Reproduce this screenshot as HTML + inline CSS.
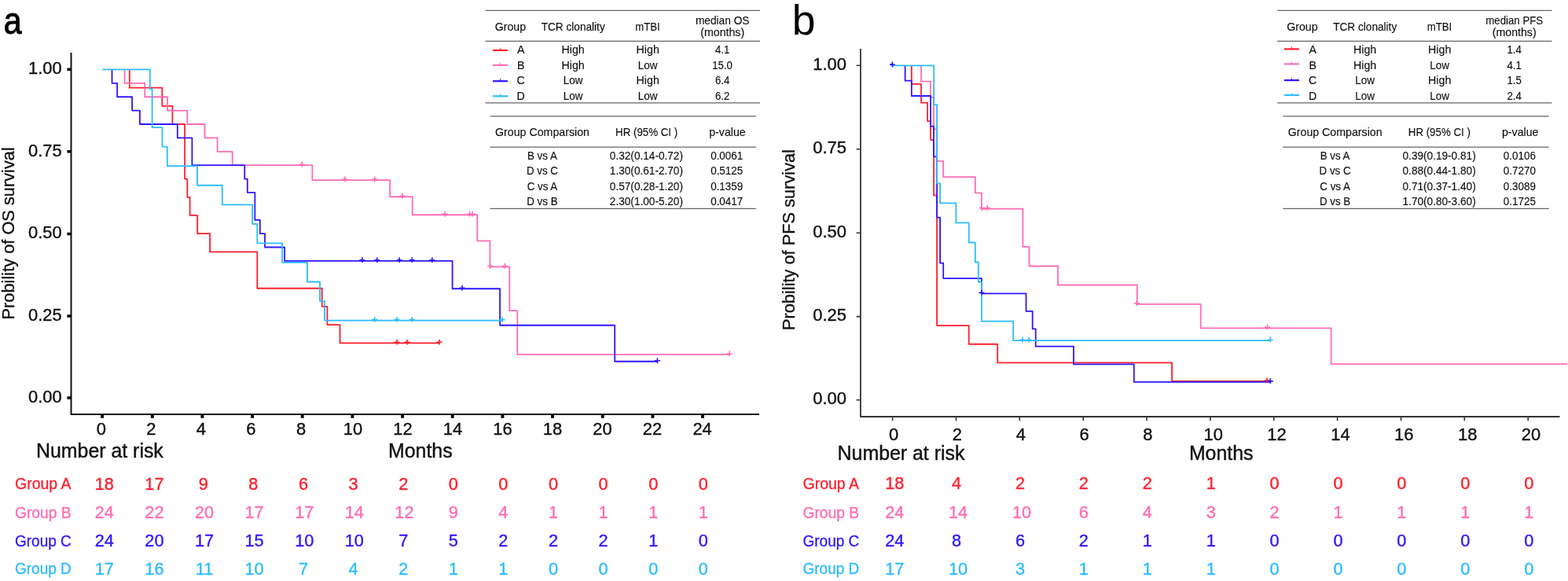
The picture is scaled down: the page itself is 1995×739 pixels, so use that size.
<!DOCTYPE html>
<html lang="en">
<head>
<meta charset="utf-8">
<title>Kaplan-Meier survival curves: OS and PFS by TCR clonality and mTBI group</title>
<style>
html,body{margin:0;padding:0;background:#fff;}
body{width:1995px;height:739px;overflow:hidden;}
svg{display:block;font-family:"Liberation Sans", Arial, Helvetica, sans-serif;}
text{white-space:pre;}
</style>
</head>
<body>
<svg width="1995" height="739" viewBox="0 0 1995 739">
<rect width="1995" height="739" fill="#fff"/>
<g id="panel-a">
<path d="M164.8 88.45H164.8V111.64H206.3V134.83H219.4V158.02H235.1V227.59H238.3V250.78H241.6V273.97H251.2V297.16H267.1V320.35H327.3V366.73H409.7V389.92H416.4V413.11H432.5V436.3H559.0" fill="none" stroke="#ff1e2c" stroke-width="1.8" stroke-linejoin="round"/>
<path d="M158.6 88.45H158.6V105.84H184.2V123.23H213.0V140.62H238.3V158.01H260.5V175.4H276.6V192.79H295.7V210.18H397.4V229.05H496.1V250.25H524.7V273.25H607.3V306.45H623.4V339.45H648.3V395.15H658.3V450.95H928.2" fill="none" stroke="#ff6cb5" stroke-width="1.8" stroke-linejoin="round"/>
<path d="M142.5 88.45H142.5V105.84H149.1V123.23H168.1V140.62H177.9V158.01H225.8V175.4H244.4V210.18H311.25V227.57H314.8V244.96H324.3V279.74H330.8V297.13H337.0V314.52H362.1V331.91H575.6V367.25H636.1V413.75H782.2V459.75H836.4" fill="none" stroke="#3016ff" stroke-width="1.8" stroke-linejoin="round"/>
<path d="M130.2 88.45H190.8V113.0H193.6V162.1H206.5V186.65H212.8V211.2H251.0V235.75H282.8V260.3H321.1V284.85H327.3V309.4H359.1V333.95H391.0V358.5H407.0V383.05H413.0V407.6H639.0" fill="none" stroke="#2cbcff" stroke-width="1.8" stroke-linejoin="round"/>
<path d="M501.6 435.3H508.6M505.1 431.7V438.5M514.5 435.3H521.5M518.0 431.7V438.5M555.5 435.3H562.5M559.0 431.7V438.5" fill="none" stroke="#ff1e2c" stroke-width="1.6"/>
<path d="M380.7 209.18H387.7M384.2 205.58V212.38M435.2 228.05H442.2M438.7 224.45V231.25M473.3 228.05H480.3M476.8 224.45V231.25M508.3 249.25H515.3M511.8 245.65V252.45M562.5 272.25H569.5M566.0 268.65V275.45M594.1 272.25H601.1M597.6 268.65V275.45M597.5 272.25H604.5M601.0 268.65V275.45M620.0 338.45H627.0M623.5 334.85V341.65M638.9 338.45H645.9M642.4 334.85V341.65M924.7 449.95H931.7M928.2 446.35V453.15" fill="none" stroke="#ff6cb5" stroke-width="1.6"/>
<path d="M457.4 330.91H464.4M460.9 327.31V334.11M476.3 330.91H483.3M479.8 327.31V334.11M504.7 330.91H511.7M508.2 327.31V334.11M520.7 330.91H527.7M524.2 327.31V334.11M546.3 330.91H553.3M549.8 327.31V334.11M584.5 366.25H591.5M588.0 362.65V369.45M832.9 458.75H839.9M836.4 455.15V461.95" fill="none" stroke="#3016ff" stroke-width="1.6"/>
<path d="M473.2 406.6H480.2M476.7 403.0V409.8M501.6 406.6H508.6M505.1 403.0V409.8M520.9 406.6H527.9M524.4 403.0V409.8M635.5 406.6H642.5M639.0 403.0V409.8" fill="none" stroke="#2cbcff" stroke-width="1.6"/>
<path d="M90.5 67V527.0H966" fill="none" stroke="#111" stroke-width="2.0" stroke-linejoin="round"/>
<path d="M85.4 88.3H90.5M85.4 192.8H90.5M85.4 297.6H90.5M85.4 402.0H90.5M85.4 506.0H90.5" fill="none" stroke="#000" stroke-width="3.5"/>
<path d="M130.1 527V531.8M193.8 527V531.8M257.4 527V531.8M321.1 527V531.8M384.7 527V531.8M448.4 527V531.8M512.1 527V531.8M575.7 527V531.8M639.4 527V531.8M703.0 527V531.8M766.7 527V531.8M830.4 527V531.8M894.0 527V531.8" fill="none" stroke="#000" stroke-width="3.9"/>
<text transform="translate(78.7 93.5) scale(0.97 1)" font-size="22.6" fill="#111" text-anchor="end" stroke="#111" stroke-width="0.4">1.00</text>
<text transform="translate(78.7 198.7) scale(0.97 1)" font-size="22.6" fill="#111" text-anchor="end" stroke="#111" stroke-width="0.4">0.75</text>
<text transform="translate(78.7 303.2) scale(0.97 1)" font-size="22.6" fill="#111" text-anchor="end" stroke="#111" stroke-width="0.4">0.50</text>
<text transform="translate(78.7 407.9) scale(0.97 1)" font-size="22.6" fill="#111" text-anchor="end" stroke="#111" stroke-width="0.4">0.25</text>
<text transform="translate(78.7 512.2) scale(0.97 1)" font-size="22.6" fill="#111" text-anchor="end" stroke="#111" stroke-width="0.4">0.00</text>
<text transform="translate(128.8 553.4) scale(0.97 1)" font-size="22.6" fill="#111" text-anchor="middle" stroke="#111" stroke-width="0.4">0</text>
<text transform="translate(192.35 553.4) scale(0.97 1)" font-size="22.6" fill="#111" text-anchor="middle" stroke="#111" stroke-width="0.4">2</text>
<text transform="translate(255.9 553.4) scale(0.97 1)" font-size="22.6" fill="#111" text-anchor="middle" stroke="#111" stroke-width="0.4">4</text>
<text transform="translate(319.45 553.4) scale(0.97 1)" font-size="22.6" fill="#111" text-anchor="middle" stroke="#111" stroke-width="0.4">6</text>
<text transform="translate(383.0 553.4) scale(0.97 1)" font-size="22.6" fill="#111" text-anchor="middle" stroke="#111" stroke-width="0.4">8</text>
<text transform="translate(449.0 553.4) scale(0.97 1)" font-size="22.6" fill="#111" text-anchor="middle" stroke="#111" stroke-width="0.4">10</text>
<text transform="translate(512.51 553.4) scale(0.97 1)" font-size="22.6" fill="#111" text-anchor="middle" stroke="#111" stroke-width="0.4">12</text>
<text transform="translate(576.02 553.4) scale(0.97 1)" font-size="22.6" fill="#111" text-anchor="middle" stroke="#111" stroke-width="0.4">14</text>
<text transform="translate(639.53 553.4) scale(0.97 1)" font-size="22.6" fill="#111" text-anchor="middle" stroke="#111" stroke-width="0.4">16</text>
<text transform="translate(703.04 553.4) scale(0.97 1)" font-size="22.6" fill="#111" text-anchor="middle" stroke="#111" stroke-width="0.4">18</text>
<text transform="translate(766.55 553.4) scale(0.97 1)" font-size="22.6" fill="#111" text-anchor="middle" stroke="#111" stroke-width="0.4">20</text>
<text transform="translate(830.06 553.4) scale(0.97 1)" font-size="22.6" fill="#111" text-anchor="middle" stroke="#111" stroke-width="0.4">22</text>
<text transform="translate(893.57 553.4) scale(0.97 1)" font-size="22.6" fill="#111" text-anchor="middle" stroke="#111" stroke-width="0.4">24</text>
<text x="126.9" y="581.8" font-size="24.9" fill="#111" text-anchor="middle" stroke="#111" stroke-width="0.4">Number at risk</text>
<text x="534.8" y="581.5" font-size="24.9" fill="#111" text-anchor="middle" stroke="#111" stroke-width="0.4">Months</text>
<text transform="translate(18.1 296.8) rotate(-90)" x="0" y="0" font-size="21.8" fill="#111" stroke="#111" stroke-width="0.35" text-anchor="middle">Probility of OS survival</text>
<text transform="translate(16.2 43.3) scale(0.87 1)" font-size="47.2" fill="#000" text-anchor="middle" stroke="#000" stroke-width="1.0">a</text>
<text transform="translate(19.0 622.0) scale(1.01 1)" font-size="19.3" fill="#ff1e2c" text-anchor="start" stroke="#ff1e2c" stroke-width="0.3">Group A</text>
<text transform="translate(132.8 623.2) scale(0.96 1)" font-size="22.6" fill="#ff1e2c" text-anchor="middle" stroke="#ff1e2c" stroke-width="0.4">18</text>
<text transform="translate(196.4 623.2) scale(0.96 1)" font-size="22.6" fill="#ff1e2c" text-anchor="middle" stroke="#ff1e2c" stroke-width="0.4">17</text>
<text transform="translate(258.8 623.2) scale(0.96 1)" font-size="22.6" fill="#ff1e2c" text-anchor="middle" stroke="#ff1e2c" stroke-width="0.4">9</text>
<text transform="translate(322.4 623.2) scale(0.96 1)" font-size="22.6" fill="#ff1e2c" text-anchor="middle" stroke="#ff1e2c" stroke-width="0.4">8</text>
<text transform="translate(386.0 623.2) scale(0.96 1)" font-size="22.6" fill="#ff1e2c" text-anchor="middle" stroke="#ff1e2c" stroke-width="0.4">6</text>
<text transform="translate(449.6 623.2) scale(0.96 1)" font-size="22.6" fill="#ff1e2c" text-anchor="middle" stroke="#ff1e2c" stroke-width="0.4">3</text>
<text transform="translate(513.2 623.2) scale(0.96 1)" font-size="22.6" fill="#ff1e2c" text-anchor="middle" stroke="#ff1e2c" stroke-width="0.4">2</text>
<text transform="translate(576.8 623.2) scale(0.96 1)" font-size="22.6" fill="#ff1e2c" text-anchor="middle" stroke="#ff1e2c" stroke-width="0.4">0</text>
<text transform="translate(640.4 623.2) scale(0.96 1)" font-size="22.6" fill="#ff1e2c" text-anchor="middle" stroke="#ff1e2c" stroke-width="0.4">0</text>
<text transform="translate(704.0 623.2) scale(0.96 1)" font-size="22.6" fill="#ff1e2c" text-anchor="middle" stroke="#ff1e2c" stroke-width="0.4">0</text>
<text transform="translate(767.6 623.2) scale(0.96 1)" font-size="22.6" fill="#ff1e2c" text-anchor="middle" stroke="#ff1e2c" stroke-width="0.4">0</text>
<text transform="translate(831.2 623.2) scale(0.96 1)" font-size="22.6" fill="#ff1e2c" text-anchor="middle" stroke="#ff1e2c" stroke-width="0.4">0</text>
<text transform="translate(894.8 623.2) scale(0.96 1)" font-size="22.6" fill="#ff1e2c" text-anchor="middle" stroke="#ff1e2c" stroke-width="0.4">0</text>
<text transform="translate(19.0 658.5) scale(0.995 1)" font-size="19.3" fill="#ff6cb5" text-anchor="start" stroke="#ff6cb5" stroke-width="0.3">Group B</text>
<text transform="translate(132.8 659.0) scale(0.96 1)" font-size="22.6" fill="#ff6cb5" text-anchor="middle" stroke="#ff6cb5" stroke-width="0.4">24</text>
<text transform="translate(196.4 659.0) scale(0.96 1)" font-size="22.6" fill="#ff6cb5" text-anchor="middle" stroke="#ff6cb5" stroke-width="0.4">22</text>
<text transform="translate(260.0 659.0) scale(0.96 1)" font-size="22.6" fill="#ff6cb5" text-anchor="middle" stroke="#ff6cb5" stroke-width="0.4">20</text>
<text transform="translate(323.6 659.0) scale(0.96 1)" font-size="22.6" fill="#ff6cb5" text-anchor="middle" stroke="#ff6cb5" stroke-width="0.4">17</text>
<text transform="translate(387.2 659.0) scale(0.96 1)" font-size="22.6" fill="#ff6cb5" text-anchor="middle" stroke="#ff6cb5" stroke-width="0.4">17</text>
<text transform="translate(450.8 659.0) scale(0.96 1)" font-size="22.6" fill="#ff6cb5" text-anchor="middle" stroke="#ff6cb5" stroke-width="0.4">14</text>
<text transform="translate(514.4 659.0) scale(0.96 1)" font-size="22.6" fill="#ff6cb5" text-anchor="middle" stroke="#ff6cb5" stroke-width="0.4">12</text>
<text transform="translate(576.8 659.0) scale(0.96 1)" font-size="22.6" fill="#ff6cb5" text-anchor="middle" stroke="#ff6cb5" stroke-width="0.4">9</text>
<text transform="translate(640.4 659.0) scale(0.96 1)" font-size="22.6" fill="#ff6cb5" text-anchor="middle" stroke="#ff6cb5" stroke-width="0.4">4</text>
<text transform="translate(704.0 659.0) scale(0.96 1)" font-size="22.6" fill="#ff6cb5" text-anchor="middle" stroke="#ff6cb5" stroke-width="0.4">1</text>
<text transform="translate(767.6 659.0) scale(0.96 1)" font-size="22.6" fill="#ff6cb5" text-anchor="middle" stroke="#ff6cb5" stroke-width="0.4">1</text>
<text transform="translate(831.2 659.0) scale(0.96 1)" font-size="22.6" fill="#ff6cb5" text-anchor="middle" stroke="#ff6cb5" stroke-width="0.4">1</text>
<text transform="translate(894.8 659.0) scale(0.96 1)" font-size="22.6" fill="#ff6cb5" text-anchor="middle" stroke="#ff6cb5" stroke-width="0.4">1</text>
<text transform="translate(19.0 694.6) scale(0.985 1)" font-size="19.3" fill="#3016ff" text-anchor="start" stroke="#3016ff" stroke-width="0.3">Group C</text>
<text transform="translate(132.8 694.8) scale(0.96 1)" font-size="22.6" fill="#3016ff" text-anchor="middle" stroke="#3016ff" stroke-width="0.4">24</text>
<text transform="translate(196.4 694.8) scale(0.96 1)" font-size="22.6" fill="#3016ff" text-anchor="middle" stroke="#3016ff" stroke-width="0.4">20</text>
<text transform="translate(260.0 694.8) scale(0.96 1)" font-size="22.6" fill="#3016ff" text-anchor="middle" stroke="#3016ff" stroke-width="0.4">17</text>
<text transform="translate(323.6 694.8) scale(0.96 1)" font-size="22.6" fill="#3016ff" text-anchor="middle" stroke="#3016ff" stroke-width="0.4">15</text>
<text transform="translate(387.2 694.8) scale(0.96 1)" font-size="22.6" fill="#3016ff" text-anchor="middle" stroke="#3016ff" stroke-width="0.4">10</text>
<text transform="translate(450.8 694.8) scale(0.96 1)" font-size="22.6" fill="#3016ff" text-anchor="middle" stroke="#3016ff" stroke-width="0.4">10</text>
<text transform="translate(513.2 694.8) scale(0.96 1)" font-size="22.6" fill="#3016ff" text-anchor="middle" stroke="#3016ff" stroke-width="0.4">7</text>
<text transform="translate(576.8 694.8) scale(0.96 1)" font-size="22.6" fill="#3016ff" text-anchor="middle" stroke="#3016ff" stroke-width="0.4">5</text>
<text transform="translate(640.4 694.8) scale(0.96 1)" font-size="22.6" fill="#3016ff" text-anchor="middle" stroke="#3016ff" stroke-width="0.4">2</text>
<text transform="translate(704.0 694.8) scale(0.96 1)" font-size="22.6" fill="#3016ff" text-anchor="middle" stroke="#3016ff" stroke-width="0.4">2</text>
<text transform="translate(767.6 694.8) scale(0.96 1)" font-size="22.6" fill="#3016ff" text-anchor="middle" stroke="#3016ff" stroke-width="0.4">2</text>
<text transform="translate(831.2 694.8) scale(0.96 1)" font-size="22.6" fill="#3016ff" text-anchor="middle" stroke="#3016ff" stroke-width="0.4">1</text>
<text transform="translate(894.8 694.8) scale(0.96 1)" font-size="22.6" fill="#3016ff" text-anchor="middle" stroke="#3016ff" stroke-width="0.4">0</text>
<text transform="translate(19.0 730.3) scale(0.985 1)" font-size="19.3" fill="#2cbcff" text-anchor="start" stroke="#2cbcff" stroke-width="0.3">Group D</text>
<text transform="translate(132.8 730.6) scale(0.96 1)" font-size="22.6" fill="#2cbcff" text-anchor="middle" stroke="#2cbcff" stroke-width="0.4">17</text>
<text transform="translate(196.4 730.6) scale(0.96 1)" font-size="22.6" fill="#2cbcff" text-anchor="middle" stroke="#2cbcff" stroke-width="0.4">16</text>
<text transform="translate(260.0 730.6) scale(0.96 1)" font-size="22.6" fill="#2cbcff" text-anchor="middle" stroke="#2cbcff" stroke-width="0.4">11</text>
<text transform="translate(323.6 730.6) scale(0.96 1)" font-size="22.6" fill="#2cbcff" text-anchor="middle" stroke="#2cbcff" stroke-width="0.4">10</text>
<text transform="translate(386.0 730.6) scale(0.96 1)" font-size="22.6" fill="#2cbcff" text-anchor="middle" stroke="#2cbcff" stroke-width="0.4">7</text>
<text transform="translate(449.6 730.6) scale(0.96 1)" font-size="22.6" fill="#2cbcff" text-anchor="middle" stroke="#2cbcff" stroke-width="0.4">4</text>
<text transform="translate(513.2 730.6) scale(0.96 1)" font-size="22.6" fill="#2cbcff" text-anchor="middle" stroke="#2cbcff" stroke-width="0.4">2</text>
<text transform="translate(576.8 730.6) scale(0.96 1)" font-size="22.6" fill="#2cbcff" text-anchor="middle" stroke="#2cbcff" stroke-width="0.4">1</text>
<text transform="translate(640.4 730.6) scale(0.96 1)" font-size="22.6" fill="#2cbcff" text-anchor="middle" stroke="#2cbcff" stroke-width="0.4">1</text>
<text transform="translate(704.0 730.6) scale(0.96 1)" font-size="22.6" fill="#2cbcff" text-anchor="middle" stroke="#2cbcff" stroke-width="0.4">0</text>
<text transform="translate(767.6 730.6) scale(0.96 1)" font-size="22.6" fill="#2cbcff" text-anchor="middle" stroke="#2cbcff" stroke-width="0.4">0</text>
<text transform="translate(831.2 730.6) scale(0.96 1)" font-size="22.6" fill="#2cbcff" text-anchor="middle" stroke="#2cbcff" stroke-width="0.4">0</text>
<text transform="translate(894.8 730.6) scale(0.96 1)" font-size="22.6" fill="#2cbcff" text-anchor="middle" stroke="#2cbcff" stroke-width="0.4">0</text>
<path d="M617.5 13.3H967M617.5 52.4H967M617.5 130.8H967" stroke="#666" stroke-width="1.3" fill="none"/>
<text x="649.4" y="38.8" font-size="14.2" fill="#111" text-anchor="middle" stroke="#111" stroke-width="0.15">Group</text>
<text transform="translate(729.2 38.8) scale(0.96 1)" font-size="14.2" fill="#111" text-anchor="middle" stroke="#111" stroke-width="0.15">TCR clonality</text>
<text transform="translate(824.0 38.8) scale(0.93 1)" font-size="14.2" fill="#111" text-anchor="middle" stroke="#111" stroke-width="0.15">mTBI</text>
<text transform="translate(919.2 30.7) scale(0.967 1)" font-size="14.2" fill="#111" text-anchor="middle" stroke="#111" stroke-width="0.15">median OS</text>
<text x="919.2" y="46.0" font-size="14.2" fill="#111" text-anchor="middle" stroke="#111" stroke-width="0.15">(months)</text>
<path d="M627.0 64.0H646.0" stroke="#ff1e2c" stroke-width="2.2" fill="none"/>
<path d="M636.5 61.2V64.0" stroke="#ff1e2c" stroke-width="1.1" fill="none"/>
<text x="662.7" y="68.2" font-size="14.2" fill="#111" text-anchor="middle" stroke="#111" stroke-width="0.15">A</text>
<text x="729.1" y="68.2" font-size="14.2" fill="#111" text-anchor="middle" stroke="#111" stroke-width="0.15">High</text>
<text x="824.2" y="68.2" font-size="14.2" fill="#111" text-anchor="middle" stroke="#111" stroke-width="0.15">High</text>
<text transform="translate(919.1 68.2) scale(0.93 1)" font-size="14.2" fill="#111" text-anchor="middle" stroke="#111" stroke-width="0.15">4.1</text>
<path d="M627.0 82.9H646.0" stroke="#ff6cb5" stroke-width="2.2" fill="none"/>
<path d="M636.5 80.1V82.9" stroke="#ff6cb5" stroke-width="1.1" fill="none"/>
<text x="662.7" y="87.6" font-size="14.2" fill="#111" text-anchor="middle" stroke="#111" stroke-width="0.15">B</text>
<text x="729.1" y="87.6" font-size="14.2" fill="#111" text-anchor="middle" stroke="#111" stroke-width="0.15">High</text>
<text transform="translate(824.2 87.6) scale(0.95 1)" font-size="14.2" fill="#111" text-anchor="middle" stroke="#111" stroke-width="0.15">Low</text>
<text transform="translate(919.1 87.6) scale(0.93 1)" font-size="14.2" fill="#111" text-anchor="middle" stroke="#111" stroke-width="0.15">15.0</text>
<path d="M627.0 103.2H646.0" stroke="#3016ff" stroke-width="2.2" fill="none"/>
<path d="M636.5 100.4V103.2" stroke="#3016ff" stroke-width="1.1" fill="none"/>
<text x="662.7" y="107.4" font-size="14.2" fill="#111" text-anchor="middle" stroke="#111" stroke-width="0.15">C</text>
<text transform="translate(729.1 107.4) scale(0.95 1)" font-size="14.2" fill="#111" text-anchor="middle" stroke="#111" stroke-width="0.15">Low</text>
<text x="824.2" y="107.4" font-size="14.2" fill="#111" text-anchor="middle" stroke="#111" stroke-width="0.15">High</text>
<text transform="translate(919.1 107.4) scale(0.93 1)" font-size="14.2" fill="#111" text-anchor="middle" stroke="#111" stroke-width="0.15">6.4</text>
<path d="M627.0 122.3H646.0" stroke="#2cbcff" stroke-width="2.2" fill="none"/>
<path d="M636.5 119.5V122.3" stroke="#2cbcff" stroke-width="1.1" fill="none"/>
<text x="662.7" y="127.0" font-size="14.2" fill="#111" text-anchor="middle" stroke="#111" stroke-width="0.15">D</text>
<text transform="translate(729.1 127.0) scale(0.95 1)" font-size="14.2" fill="#111" text-anchor="middle" stroke="#111" stroke-width="0.15">Low</text>
<text transform="translate(824.2 127.0) scale(0.95 1)" font-size="14.2" fill="#111" text-anchor="middle" stroke="#111" stroke-width="0.15">Low</text>
<text transform="translate(919.1 127.0) scale(0.93 1)" font-size="14.2" fill="#111" text-anchor="middle" stroke="#111" stroke-width="0.15">6.2</text>
<path d="M623.6 147.9H962.0M623.6 187.1H962.0M623.6 265.3H962.0" stroke="#666" stroke-width="1.3" fill="none"/>
<text x="690.0" y="172.9" font-size="14.2" fill="#111" text-anchor="middle" stroke="#111" stroke-width="0.15">Group Comparsion</text>
<text transform="translate(822.6 172.9) scale(0.936 1)" font-size="14.2" fill="#111" text-anchor="middle" stroke="#111" stroke-width="0.15">HR (95% CI )</text>
<text x="925.5" y="172.9" font-size="14.2" fill="#111" text-anchor="middle" stroke="#111" stroke-width="0.15">p-value</text>
<text transform="translate(689.9 202.6) scale(0.94 1)" font-size="14.2" fill="#111" text-anchor="middle" stroke="#111" stroke-width="0.15">B vs A</text>
<text transform="translate(822.4 202.6) scale(0.96 1)" font-size="14.2" fill="#111" text-anchor="middle" stroke="#111" stroke-width="0.15">0.32(0.14-0.72)</text>
<text transform="translate(924.7 202.6) scale(0.947 1)" font-size="14.2" fill="#111" text-anchor="middle" stroke="#111" stroke-width="0.15">0.0061</text>
<text transform="translate(689.9 222.2) scale(0.94 1)" font-size="14.2" fill="#111" text-anchor="middle" stroke="#111" stroke-width="0.15">D vs C</text>
<text transform="translate(822.4 222.2) scale(0.96 1)" font-size="14.2" fill="#111" text-anchor="middle" stroke="#111" stroke-width="0.15">1.30(0.61-2.70)</text>
<text transform="translate(924.7 222.2) scale(0.947 1)" font-size="14.2" fill="#111" text-anchor="middle" stroke="#111" stroke-width="0.15">0.5125</text>
<text transform="translate(689.9 241.8) scale(0.94 1)" font-size="14.2" fill="#111" text-anchor="middle" stroke="#111" stroke-width="0.15">C vs A</text>
<text transform="translate(822.4 241.8) scale(0.96 1)" font-size="14.2" fill="#111" text-anchor="middle" stroke="#111" stroke-width="0.15">0.57(0.28-1.20)</text>
<text transform="translate(924.7 241.8) scale(0.947 1)" font-size="14.2" fill="#111" text-anchor="middle" stroke="#111" stroke-width="0.15">0.1359</text>
<text transform="translate(689.9 261.4) scale(0.94 1)" font-size="14.2" fill="#111" text-anchor="middle" stroke="#111" stroke-width="0.15">D vs B</text>
<text transform="translate(822.4 261.4) scale(0.96 1)" font-size="14.2" fill="#111" text-anchor="middle" stroke="#111" stroke-width="0.15">2.30(1.00-5.20)</text>
<text transform="translate(924.7 261.4) scale(0.947 1)" font-size="14.2" fill="#111" text-anchor="middle" stroke="#111" stroke-width="0.15">0.0417</text>
</g>
<g id="panel-b">
<path d="M1159.8 83.3H1159.8V106.93H1172.0V130.56H1180.1V154.19H1184.0V177.82H1188.1V248.71H1192.1V414.12H1232.7V437.75H1269.2V461.38H1491.1V485.01H1612.2" fill="none" stroke="#ff1e2c" stroke-width="1.8" stroke-linejoin="round"/>
<path d="M1172.0 83.3H1172.0V103.56H1184.0V123.82H1188.0V164.34H1192.1V204.86H1200.2V225.12H1240.8V245.38H1248.9V265.64H1301.4V313.8H1309.5V338.5H1346.0V362.5H1446.8V386.8H1527.7V417.3H1693.6V463.2H1994" fill="none" stroke="#ff6cb5" stroke-width="1.8" stroke-linejoin="round"/>
<path d="M1151.6 83.3H1151.6V102.64H1159.8V121.98H1184.0V160.66H1188.0V199.34H1192.1V276.7H1196.1V334.72H1200.2V354.06H1248.9V373.4H1305.5V395.9H1313.7V418.3H1317.7V440.7H1366.0V463.3H1442.8V485.9H1616.3" fill="none" stroke="#3016ff" stroke-width="1.8" stroke-linejoin="round"/>
<path d="M1135.6 83.3H1188.2V133.34H1192.1V233.42H1196.1V258.44H1216.4V283.46H1232.7V308.48H1240.8V333.5H1244.8V358.52H1248.9V408.56H1289.2V433.2H1616.3" fill="none" stroke="#2cbcff" stroke-width="1.8" stroke-linejoin="round"/>
<path d="M1608.7 484.01H1615.7M1612.2 480.41V487.21" fill="none" stroke="#ff1e2c" stroke-width="1.6"/>
<path d="M1245.7 264.64H1252.7M1249.2 261.04V267.84M1252.8 264.64H1259.8M1256.3 261.04V267.84M1609.0 416.3H1616.0M1612.5 412.7V419.5M1442.7 385.8H1449.7M1446.2 382.2V389.0" fill="none" stroke="#ff6cb5" stroke-width="1.6"/>
<path d="M1245.5 372.4H1252.5M1249.0 368.8V375.6M1612.8 484.9H1619.8M1616.3 481.3V488.1" fill="none" stroke="#3016ff" stroke-width="1.6"/>
<path d="M1297.5 432.2H1304.5M1301.0 428.6V435.4M1305.6 432.2H1312.6M1309.1 428.6V435.4M1612.8 432.2H1619.8M1616.3 428.6V435.4" fill="none" stroke="#2cbcff" stroke-width="1.6"/>
<path d="M1131.9 82.2H1138.6M1135.3 78.6V85.6" fill="none" stroke="#3016ff" stroke-width="1.7"/>
<path d="M1094.9 62V530.0H1984.5" fill="none" stroke="#333" stroke-width="1.8" stroke-linejoin="round"/>
<path d="M1089.6 83.2H1094.9M1089.6 189.8H1094.9M1089.6 296.2H1094.9M1089.6 402.6H1094.9M1089.6 508.7H1094.9M1135.6 530V535.2M1216.5 530V535.2M1297.3 530V535.2M1378.2 530V535.2M1459.0 530V535.2M1539.9 530V535.2M1620.8 530V535.2M1701.6 530V535.2M1782.5 530V535.2M1863.3 530V535.2M1944.2 530V535.2" fill="none" stroke="#333" stroke-width="1.6"/>
<text transform="translate(1077.0 88.7) scale(0.97 1)" font-size="22.6" fill="#111" text-anchor="end" stroke="#111" stroke-width="0.4">1.00</text>
<text transform="translate(1077.0 195.3) scale(0.97 1)" font-size="22.6" fill="#111" text-anchor="end" stroke="#111" stroke-width="0.4">0.75</text>
<text transform="translate(1077.0 301.7) scale(0.97 1)" font-size="22.6" fill="#111" text-anchor="end" stroke="#111" stroke-width="0.4">0.50</text>
<text transform="translate(1077.0 408.1) scale(0.97 1)" font-size="22.6" fill="#111" text-anchor="end" stroke="#111" stroke-width="0.4">0.25</text>
<text transform="translate(1077.0 514.2) scale(0.97 1)" font-size="22.6" fill="#111" text-anchor="end" stroke="#111" stroke-width="0.4">0.00</text>
<text transform="translate(1137.0 559.9) scale(0.97 1)" font-size="22.6" fill="#111" text-anchor="middle" stroke="#111" stroke-width="0.4">0</text>
<text transform="translate(1217.86 559.9) scale(0.97 1)" font-size="22.6" fill="#111" text-anchor="middle" stroke="#111" stroke-width="0.4">2</text>
<text transform="translate(1298.72 559.9) scale(0.97 1)" font-size="22.6" fill="#111" text-anchor="middle" stroke="#111" stroke-width="0.4">4</text>
<text transform="translate(1379.58 559.9) scale(0.97 1)" font-size="22.6" fill="#111" text-anchor="middle" stroke="#111" stroke-width="0.4">6</text>
<text transform="translate(1460.44 559.9) scale(0.97 1)" font-size="22.6" fill="#111" text-anchor="middle" stroke="#111" stroke-width="0.4">8</text>
<text transform="translate(1543.7 559.9) scale(0.97 1)" font-size="22.6" fill="#111" text-anchor="middle" stroke="#111" stroke-width="0.4">10</text>
<text transform="translate(1624.56 559.9) scale(0.97 1)" font-size="22.6" fill="#111" text-anchor="middle" stroke="#111" stroke-width="0.4">12</text>
<text transform="translate(1705.42 559.9) scale(0.97 1)" font-size="22.6" fill="#111" text-anchor="middle" stroke="#111" stroke-width="0.4">14</text>
<text transform="translate(1786.28 559.9) scale(0.97 1)" font-size="22.6" fill="#111" text-anchor="middle" stroke="#111" stroke-width="0.4">16</text>
<text transform="translate(1867.14 559.9) scale(0.97 1)" font-size="22.6" fill="#111" text-anchor="middle" stroke="#111" stroke-width="0.4">18</text>
<text transform="translate(1948.0 559.9) scale(0.97 1)" font-size="22.6" fill="#111" text-anchor="middle" stroke="#111" stroke-width="0.4">20</text>
<text x="1146.5" y="584.6" font-size="24.9" fill="#111" text-anchor="middle" stroke="#111" stroke-width="0.4">Number at risk</text>
<text x="1553.7" y="584.6" font-size="24.9" fill="#111" text-anchor="middle" stroke="#111" stroke-width="0.4">Months</text>
<text transform="translate(1010.5 305) rotate(-90)" x="0" y="0" font-size="21.8" fill="#111" stroke="#111" stroke-width="0.35" text-anchor="middle">Probility of PFS survival</text>
<text x="1022.7" y="43.9" font-size="53.4" fill="#000" text-anchor="middle">b</text>
<text transform="translate(1021.5 622.0) scale(1.01 1)" font-size="19.3" fill="#ff1e2c" text-anchor="start" stroke="#ff1e2c" stroke-width="0.3">Group A</text>
<text transform="translate(1138.2 622.2) scale(0.96 1)" font-size="22.6" fill="#ff1e2c" text-anchor="middle" stroke="#ff1e2c" stroke-width="0.4">18</text>
<text transform="translate(1217.1 622.2) scale(0.96 1)" font-size="22.6" fill="#ff1e2c" text-anchor="middle" stroke="#ff1e2c" stroke-width="0.4">4</text>
<text transform="translate(1298.0 622.2) scale(0.96 1)" font-size="22.6" fill="#ff1e2c" text-anchor="middle" stroke="#ff1e2c" stroke-width="0.4">2</text>
<text transform="translate(1378.9 622.2) scale(0.96 1)" font-size="22.6" fill="#ff1e2c" text-anchor="middle" stroke="#ff1e2c" stroke-width="0.4">2</text>
<text transform="translate(1459.8 622.2) scale(0.96 1)" font-size="22.6" fill="#ff1e2c" text-anchor="middle" stroke="#ff1e2c" stroke-width="0.4">2</text>
<text transform="translate(1540.7 622.2) scale(0.96 1)" font-size="22.6" fill="#ff1e2c" text-anchor="middle" stroke="#ff1e2c" stroke-width="0.4">1</text>
<text transform="translate(1621.6 622.2) scale(0.96 1)" font-size="22.6" fill="#ff1e2c" text-anchor="middle" stroke="#ff1e2c" stroke-width="0.4">0</text>
<text transform="translate(1702.5 622.2) scale(0.96 1)" font-size="22.6" fill="#ff1e2c" text-anchor="middle" stroke="#ff1e2c" stroke-width="0.4">0</text>
<text transform="translate(1783.4 622.2) scale(0.96 1)" font-size="22.6" fill="#ff1e2c" text-anchor="middle" stroke="#ff1e2c" stroke-width="0.4">0</text>
<text transform="translate(1864.3 622.2) scale(0.96 1)" font-size="22.6" fill="#ff1e2c" text-anchor="middle" stroke="#ff1e2c" stroke-width="0.4">0</text>
<text transform="translate(1945.2 622.2) scale(0.96 1)" font-size="22.6" fill="#ff1e2c" text-anchor="middle" stroke="#ff1e2c" stroke-width="0.4">0</text>
<text transform="translate(1021.5 658.5) scale(0.995 1)" font-size="19.3" fill="#ff6cb5" text-anchor="start" stroke="#ff6cb5" stroke-width="0.3">Group B</text>
<text transform="translate(1138.2 658.7) scale(0.96 1)" font-size="22.6" fill="#ff6cb5" text-anchor="middle" stroke="#ff6cb5" stroke-width="0.4">24</text>
<text transform="translate(1219.1 658.7) scale(0.96 1)" font-size="22.6" fill="#ff6cb5" text-anchor="middle" stroke="#ff6cb5" stroke-width="0.4">14</text>
<text transform="translate(1300.0 658.7) scale(0.96 1)" font-size="22.6" fill="#ff6cb5" text-anchor="middle" stroke="#ff6cb5" stroke-width="0.4">10</text>
<text transform="translate(1378.9 658.7) scale(0.96 1)" font-size="22.6" fill="#ff6cb5" text-anchor="middle" stroke="#ff6cb5" stroke-width="0.4">6</text>
<text transform="translate(1459.8 658.7) scale(0.96 1)" font-size="22.6" fill="#ff6cb5" text-anchor="middle" stroke="#ff6cb5" stroke-width="0.4">4</text>
<text transform="translate(1540.7 658.7) scale(0.96 1)" font-size="22.6" fill="#ff6cb5" text-anchor="middle" stroke="#ff6cb5" stroke-width="0.4">3</text>
<text transform="translate(1621.6 658.7) scale(0.96 1)" font-size="22.6" fill="#ff6cb5" text-anchor="middle" stroke="#ff6cb5" stroke-width="0.4">2</text>
<text transform="translate(1702.5 658.7) scale(0.96 1)" font-size="22.6" fill="#ff6cb5" text-anchor="middle" stroke="#ff6cb5" stroke-width="0.4">1</text>
<text transform="translate(1783.4 658.7) scale(0.96 1)" font-size="22.6" fill="#ff6cb5" text-anchor="middle" stroke="#ff6cb5" stroke-width="0.4">1</text>
<text transform="translate(1864.3 658.7) scale(0.96 1)" font-size="22.6" fill="#ff6cb5" text-anchor="middle" stroke="#ff6cb5" stroke-width="0.4">1</text>
<text transform="translate(1945.2 658.7) scale(0.96 1)" font-size="22.6" fill="#ff6cb5" text-anchor="middle" stroke="#ff6cb5" stroke-width="0.4">1</text>
<text transform="translate(1021.5 694.6) scale(0.985 1)" font-size="19.3" fill="#3016ff" text-anchor="start" stroke="#3016ff" stroke-width="0.3">Group C</text>
<text transform="translate(1138.2 695.0) scale(0.96 1)" font-size="22.6" fill="#3016ff" text-anchor="middle" stroke="#3016ff" stroke-width="0.4">24</text>
<text transform="translate(1217.1 695.0) scale(0.96 1)" font-size="22.6" fill="#3016ff" text-anchor="middle" stroke="#3016ff" stroke-width="0.4">8</text>
<text transform="translate(1298.0 695.0) scale(0.96 1)" font-size="22.6" fill="#3016ff" text-anchor="middle" stroke="#3016ff" stroke-width="0.4">6</text>
<text transform="translate(1378.9 695.0) scale(0.96 1)" font-size="22.6" fill="#3016ff" text-anchor="middle" stroke="#3016ff" stroke-width="0.4">2</text>
<text transform="translate(1459.8 695.0) scale(0.96 1)" font-size="22.6" fill="#3016ff" text-anchor="middle" stroke="#3016ff" stroke-width="0.4">1</text>
<text transform="translate(1540.7 695.0) scale(0.96 1)" font-size="22.6" fill="#3016ff" text-anchor="middle" stroke="#3016ff" stroke-width="0.4">1</text>
<text transform="translate(1621.6 695.0) scale(0.96 1)" font-size="22.6" fill="#3016ff" text-anchor="middle" stroke="#3016ff" stroke-width="0.4">0</text>
<text transform="translate(1702.5 695.0) scale(0.96 1)" font-size="22.6" fill="#3016ff" text-anchor="middle" stroke="#3016ff" stroke-width="0.4">0</text>
<text transform="translate(1783.4 695.0) scale(0.96 1)" font-size="22.6" fill="#3016ff" text-anchor="middle" stroke="#3016ff" stroke-width="0.4">0</text>
<text transform="translate(1864.3 695.0) scale(0.96 1)" font-size="22.6" fill="#3016ff" text-anchor="middle" stroke="#3016ff" stroke-width="0.4">0</text>
<text transform="translate(1945.2 695.0) scale(0.96 1)" font-size="22.6" fill="#3016ff" text-anchor="middle" stroke="#3016ff" stroke-width="0.4">0</text>
<text transform="translate(1021.5 730.3) scale(0.985 1)" font-size="19.3" fill="#2cbcff" text-anchor="start" stroke="#2cbcff" stroke-width="0.3">Group D</text>
<text transform="translate(1138.2 730.8) scale(0.96 1)" font-size="22.6" fill="#2cbcff" text-anchor="middle" stroke="#2cbcff" stroke-width="0.4">17</text>
<text transform="translate(1219.1 730.8) scale(0.96 1)" font-size="22.6" fill="#2cbcff" text-anchor="middle" stroke="#2cbcff" stroke-width="0.4">10</text>
<text transform="translate(1298.0 730.8) scale(0.96 1)" font-size="22.6" fill="#2cbcff" text-anchor="middle" stroke="#2cbcff" stroke-width="0.4">3</text>
<text transform="translate(1378.9 730.8) scale(0.96 1)" font-size="22.6" fill="#2cbcff" text-anchor="middle" stroke="#2cbcff" stroke-width="0.4">1</text>
<text transform="translate(1459.8 730.8) scale(0.96 1)" font-size="22.6" fill="#2cbcff" text-anchor="middle" stroke="#2cbcff" stroke-width="0.4">1</text>
<text transform="translate(1540.7 730.8) scale(0.96 1)" font-size="22.6" fill="#2cbcff" text-anchor="middle" stroke="#2cbcff" stroke-width="0.4">1</text>
<text transform="translate(1621.6 730.8) scale(0.96 1)" font-size="22.6" fill="#2cbcff" text-anchor="middle" stroke="#2cbcff" stroke-width="0.4">0</text>
<text transform="translate(1702.5 730.8) scale(0.96 1)" font-size="22.6" fill="#2cbcff" text-anchor="middle" stroke="#2cbcff" stroke-width="0.4">0</text>
<text transform="translate(1783.4 730.8) scale(0.96 1)" font-size="22.6" fill="#2cbcff" text-anchor="middle" stroke="#2cbcff" stroke-width="0.4">0</text>
<text transform="translate(1864.3 730.8) scale(0.96 1)" font-size="22.6" fill="#2cbcff" text-anchor="middle" stroke="#2cbcff" stroke-width="0.4">0</text>
<text transform="translate(1945.2 730.8) scale(0.96 1)" font-size="22.6" fill="#2cbcff" text-anchor="middle" stroke="#2cbcff" stroke-width="0.4">0</text>
<path d="M1625.0 13.3H1974.5M1625.0 52.4H1974.5M1625.0 130.8H1974.5" stroke="#666" stroke-width="1.3" fill="none"/>
<text x="1656.9" y="38.8" font-size="14.2" fill="#111" text-anchor="middle" stroke="#111" stroke-width="0.15">Group</text>
<text transform="translate(1736.7 38.8) scale(0.96 1)" font-size="14.2" fill="#111" text-anchor="middle" stroke="#111" stroke-width="0.15">TCR clonality</text>
<text transform="translate(1831.5 38.8) scale(0.93 1)" font-size="14.2" fill="#111" text-anchor="middle" stroke="#111" stroke-width="0.15">mTBI</text>
<text transform="translate(1926.7 30.7) scale(0.935 1)" font-size="14.2" fill="#111" text-anchor="middle" stroke="#111" stroke-width="0.15">median PFS</text>
<text x="1926.7" y="46.0" font-size="14.2" fill="#111" text-anchor="middle" stroke="#111" stroke-width="0.15">(months)</text>
<path d="M1633.9 62.4H1652.9" stroke="#ff1e2c" stroke-width="2.2" fill="none"/>
<path d="M1643.4 59.6V62.4" stroke="#ff1e2c" stroke-width="1.1" fill="none"/>
<text x="1670.2" y="68.2" font-size="14.2" fill="#111" text-anchor="middle" stroke="#111" stroke-width="0.15">A</text>
<text x="1736.6" y="68.2" font-size="14.2" fill="#111" text-anchor="middle" stroke="#111" stroke-width="0.15">High</text>
<text x="1831.7" y="68.2" font-size="14.2" fill="#111" text-anchor="middle" stroke="#111" stroke-width="0.15">High</text>
<text transform="translate(1926.6 68.2) scale(0.93 1)" font-size="14.2" fill="#111" text-anchor="middle" stroke="#111" stroke-width="0.15">1.4</text>
<path d="M1633.9 81.4H1652.9" stroke="#ff6cb5" stroke-width="2.2" fill="none"/>
<path d="M1643.4 78.6V81.4" stroke="#ff6cb5" stroke-width="1.1" fill="none"/>
<text x="1670.2" y="87.6" font-size="14.2" fill="#111" text-anchor="middle" stroke="#111" stroke-width="0.15">B</text>
<text x="1736.6" y="87.6" font-size="14.2" fill="#111" text-anchor="middle" stroke="#111" stroke-width="0.15">High</text>
<text transform="translate(1831.7 87.6) scale(0.95 1)" font-size="14.2" fill="#111" text-anchor="middle" stroke="#111" stroke-width="0.15">Low</text>
<text transform="translate(1926.6 87.6) scale(0.93 1)" font-size="14.2" fill="#111" text-anchor="middle" stroke="#111" stroke-width="0.15">4.1</text>
<path d="M1633.9 102.1H1652.9" stroke="#3016ff" stroke-width="2.2" fill="none"/>
<path d="M1643.4 99.3V102.1" stroke="#3016ff" stroke-width="1.1" fill="none"/>
<text x="1670.2" y="107.4" font-size="14.2" fill="#111" text-anchor="middle" stroke="#111" stroke-width="0.15">C</text>
<text transform="translate(1736.6 107.4) scale(0.95 1)" font-size="14.2" fill="#111" text-anchor="middle" stroke="#111" stroke-width="0.15">Low</text>
<text x="1831.7" y="107.4" font-size="14.2" fill="#111" text-anchor="middle" stroke="#111" stroke-width="0.15">High</text>
<text transform="translate(1926.6 107.4) scale(0.93 1)" font-size="14.2" fill="#111" text-anchor="middle" stroke="#111" stroke-width="0.15">1.5</text>
<path d="M1633.9 121.0H1652.9" stroke="#2cbcff" stroke-width="2.2" fill="none"/>
<path d="M1643.4 118.2V121.0" stroke="#2cbcff" stroke-width="1.1" fill="none"/>
<text x="1670.2" y="127.0" font-size="14.2" fill="#111" text-anchor="middle" stroke="#111" stroke-width="0.15">D</text>
<text transform="translate(1736.6 127.0) scale(0.95 1)" font-size="14.2" fill="#111" text-anchor="middle" stroke="#111" stroke-width="0.15">Low</text>
<text transform="translate(1831.7 127.0) scale(0.95 1)" font-size="14.2" fill="#111" text-anchor="middle" stroke="#111" stroke-width="0.15">Low</text>
<text transform="translate(1926.6 127.0) scale(0.93 1)" font-size="14.2" fill="#111" text-anchor="middle" stroke="#111" stroke-width="0.15">2.4</text>
<path d="M1632.3000000000002 147.9H1970.7M1632.3000000000002 187.1H1970.7M1632.3000000000002 265.3H1970.7" stroke="#666" stroke-width="1.3" fill="none"/>
<text x="1698.7" y="172.9" font-size="14.2" fill="#111" text-anchor="middle" stroke="#111" stroke-width="0.15">Group Comparsion</text>
<text transform="translate(1831.3 172.9) scale(0.936 1)" font-size="14.2" fill="#111" text-anchor="middle" stroke="#111" stroke-width="0.15">HR (95% CI )</text>
<text x="1934.2" y="172.9" font-size="14.2" fill="#111" text-anchor="middle" stroke="#111" stroke-width="0.15">p-value</text>
<text transform="translate(1698.6 202.6) scale(0.94 1)" font-size="14.2" fill="#111" text-anchor="middle" stroke="#111" stroke-width="0.15">B vs A</text>
<text transform="translate(1831.1 202.6) scale(0.96 1)" font-size="14.2" fill="#111" text-anchor="middle" stroke="#111" stroke-width="0.15">0.39(0.19-0.81)</text>
<text transform="translate(1933.4 202.6) scale(0.947 1)" font-size="14.2" fill="#111" text-anchor="middle" stroke="#111" stroke-width="0.15">0.0106</text>
<text transform="translate(1698.6 222.2) scale(0.94 1)" font-size="14.2" fill="#111" text-anchor="middle" stroke="#111" stroke-width="0.15">D vs C</text>
<text transform="translate(1831.1 222.2) scale(0.96 1)" font-size="14.2" fill="#111" text-anchor="middle" stroke="#111" stroke-width="0.15">0.88(0.44-1.80)</text>
<text transform="translate(1933.4 222.2) scale(0.947 1)" font-size="14.2" fill="#111" text-anchor="middle" stroke="#111" stroke-width="0.15">0.7270</text>
<text transform="translate(1698.6 241.8) scale(0.94 1)" font-size="14.2" fill="#111" text-anchor="middle" stroke="#111" stroke-width="0.15">C vs A</text>
<text transform="translate(1831.1 241.8) scale(0.96 1)" font-size="14.2" fill="#111" text-anchor="middle" stroke="#111" stroke-width="0.15">0.71(0.37-1.40)</text>
<text transform="translate(1933.4 241.8) scale(0.947 1)" font-size="14.2" fill="#111" text-anchor="middle" stroke="#111" stroke-width="0.15">0.3089</text>
<text transform="translate(1698.6 261.4) scale(0.94 1)" font-size="14.2" fill="#111" text-anchor="middle" stroke="#111" stroke-width="0.15">D vs B</text>
<text transform="translate(1831.1 261.4) scale(0.96 1)" font-size="14.2" fill="#111" text-anchor="middle" stroke="#111" stroke-width="0.15">1.70(0.80-3.60)</text>
<text transform="translate(1933.4 261.4) scale(0.947 1)" font-size="14.2" fill="#111" text-anchor="middle" stroke="#111" stroke-width="0.15">0.1725</text>
</g>
</svg>
</body>
</html>
